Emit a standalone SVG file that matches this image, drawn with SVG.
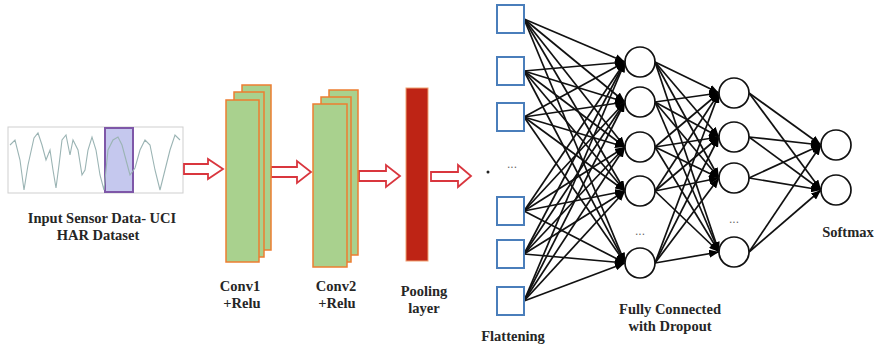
<svg xmlns="http://www.w3.org/2000/svg" width="879" height="350" viewBox="0 0 879 350">
<style>
.lbl{font-family:"Liberation Serif","DejaVu Serif",serif;font-weight:bold;font-size:14.5px;fill:#262626;text-anchor:middle}
.conv{fill:#a9d18e;stroke:#ed7d31;stroke-width:1.5}
.harrow{fill:#fff;stroke:#d9363e;stroke-width:1.8;stroke-linejoin:miter}
.sq{fill:#fff;stroke:#4a7ebb;stroke-width:2}
.nd{fill:#fff;stroke:#111;stroke-width:1.7}
.edge line{stroke:#111;stroke-width:1.7;marker-end:url(#ah)}
.dots{font-family:"Liberation Sans",sans-serif;font-size:12px;fill:#666;text-anchor:middle}
</style>
<defs>
<marker id="ah" markerUnits="userSpaceOnUse" markerWidth="10" markerHeight="8" refX="10" refY="4" orient="auto">
<path d="M0,0 L10,4 L0,8 z" fill="#000"/>
</marker>
</defs>
<rect width="879" height="350" fill="#fff"/>

<g id="input">
<rect x="8" y="127" width="175" height="66" fill="#fff" stroke="#cfcfcf" stroke-width="1"/>
<rect x="105" y="128" width="28" height="64" fill="#c5c8ee" stroke="#7e57a8" stroke-width="2"/>
<polyline fill="none" stroke="#9bb4b4" stroke-width="1.1" points="10,145 15,140 20,160 24,190 28,165 34,138 38,133 42,145 46,160 50,150 53,170 56,188 59,165 62,140 66,135 70,155 73,140 78,150 82,175 85,170 88,150 92,137 96,150 100,175 104,190 108,150 113,140 118,137 122,145 126,160 130,175 135,168 140,150 145,140 150,145 155,170 160,190 165,170 170,150 175,135 180,140"/>
<text class="lbl" x="102" y="223">Input Sensor Data- UCI</text>
<text class="lbl" x="98" y="240">HAR Dataset</text>
</g>

<g id="arrows">
<path class="harrow" d="M184,164 H208 V159 L223,169 L208,179 V174 H184 Z"/>
<path class="harrow" d="M271,167 H297 V161 L311,172 L297,183 V177 H271 Z"/>
<path class="harrow" d="M359,171 H386 V165 L400,176 L386,187 V181 H359 Z"/>
<path class="harrow" d="M431,172 H458 V165 L471,176 L458,187 V181 H431 Z"/>
<circle cx="488" cy="172" r="1.5" fill="#222"/>
</g>

<g id="conv1">
<rect class="conv" x="242" y="85" width="29" height="165"/>
<rect class="conv" x="234" y="92" width="30" height="165"/>
<rect class="conv" x="226" y="100" width="33" height="162"/>
<text class="lbl" x="240" y="291">Conv1</text>
<text class="lbl" x="242" y="308">+Relu</text>
</g>

<g id="conv2">
<rect class="conv" x="329" y="90" width="29" height="165"/>
<rect class="conv" x="321" y="97" width="30" height="165"/>
<rect class="conv" x="313" y="104" width="34" height="163"/>
<text class="lbl" x="336" y="291">Conv2</text>
<text class="lbl" x="337" y="308">+Relu</text>
</g>

<g id="pooling">
<rect x="406" y="88" width="22" height="173" fill="#be2415" stroke="#f0a070" stroke-width="1"/>
<text class="lbl" x="424" y="296">Pooling</text>
<text class="lbl" x="424" y="313">layer</text>
</g>

<g id="connectors" class="edge">
<line x1="524" y1="19" x2="625" y2="62"/><line x1="524" y1="19" x2="625" y2="102"/><line x1="524" y1="19" x2="625" y2="147"/><line x1="524" y1="19" x2="625" y2="191"/><line x1="524" y1="19" x2="625" y2="263"/>
<line x1="524" y1="71" x2="625" y2="62"/><line x1="524" y1="71" x2="625" y2="102"/><line x1="524" y1="71" x2="625" y2="147"/><line x1="524" y1="71" x2="625" y2="191"/><line x1="524" y1="71" x2="625" y2="263"/>
<line x1="524" y1="117" x2="625" y2="62"/><line x1="524" y1="117" x2="625" y2="102"/><line x1="524" y1="117" x2="625" y2="147"/><line x1="524" y1="117" x2="625" y2="191"/><line x1="524" y1="117" x2="625" y2="263"/>
<line x1="524" y1="211" x2="625" y2="62"/><line x1="524" y1="211" x2="625" y2="102"/><line x1="524" y1="211" x2="625" y2="147"/><line x1="524" y1="211" x2="625" y2="191"/><line x1="524" y1="211" x2="625" y2="263"/>
<line x1="524" y1="254" x2="625" y2="62"/><line x1="524" y1="254" x2="625" y2="102"/><line x1="524" y1="254" x2="625" y2="147"/><line x1="524" y1="254" x2="625" y2="191"/><line x1="524" y1="254" x2="625" y2="263"/>
<line x1="524" y1="301" x2="625" y2="62"/><line x1="524" y1="301" x2="625" y2="102"/><line x1="524" y1="301" x2="625" y2="147"/><line x1="524" y1="301" x2="625" y2="191"/><line x1="524" y1="301" x2="625" y2="263"/>
<line x1="655" y1="62" x2="719" y2="93"/><line x1="655" y1="62" x2="719" y2="137"/><line x1="655" y1="62" x2="719" y2="178"/><line x1="655" y1="62" x2="719" y2="252"/>
<line x1="655" y1="102" x2="719" y2="93"/><line x1="655" y1="102" x2="719" y2="137"/><line x1="655" y1="102" x2="719" y2="178"/><line x1="655" y1="102" x2="719" y2="252"/>
<line x1="655" y1="147" x2="719" y2="93"/><line x1="655" y1="147" x2="719" y2="137"/><line x1="655" y1="147" x2="719" y2="178"/><line x1="655" y1="147" x2="719" y2="252"/>
<line x1="655" y1="191" x2="719" y2="93"/><line x1="655" y1="191" x2="719" y2="137"/><line x1="655" y1="191" x2="719" y2="178"/><line x1="655" y1="191" x2="719" y2="252"/>
<line x1="655" y1="263" x2="719" y2="93"/><line x1="655" y1="263" x2="719" y2="137"/><line x1="655" y1="263" x2="719" y2="178"/><line x1="655" y1="263" x2="719" y2="252"/>
<line x1="749" y1="93" x2="821" y2="145"/><line x1="749" y1="93" x2="821" y2="190"/>
<line x1="749" y1="137" x2="821" y2="145"/><line x1="749" y1="137" x2="821" y2="190"/>
<line x1="749" y1="178" x2="821" y2="145"/><line x1="749" y1="178" x2="821" y2="190"/>
<line x1="749" y1="252" x2="821" y2="145"/><line x1="749" y1="252" x2="821" y2="190"/>
</g>

<g id="flattening">
<rect class="sq" x="497" y="5" width="27" height="28"/>
<rect class="sq" x="497" y="57" width="27" height="28"/>
<rect class="sq" x="497" y="103" width="27" height="28"/>
<text class="dots" x="512" y="168">...</text>
<rect class="sq" x="497" y="197" width="27" height="28"/>
<rect class="sq" x="497" y="240" width="27" height="28"/>
<rect class="sq" x="497" y="287" width="27" height="28"/>
<text class="lbl" x="513" y="341">Flattening</text>
</g>

<g id="fc1">
<circle class="nd" cx="640" cy="62" r="15"/>
<circle class="nd" cx="640" cy="102" r="15"/>
<circle class="nd" cx="640" cy="147" r="15"/>
<circle class="nd" cx="640" cy="191" r="15"/>
<text class="dots" x="640" y="235">...</text>
<circle class="nd" cx="640" cy="263" r="15"/>
</g>

<g id="fc2">
<circle class="nd" cx="734" cy="93" r="15"/>
<circle class="nd" cx="734" cy="137" r="15"/>
<circle class="nd" cx="734" cy="178" r="15"/>
<text class="dots" x="734" y="223">...</text>
<circle class="nd" cx="734" cy="252" r="15"/>
<text class="lbl" x="670" y="314">Fully Connected</text>
<text class="lbl" x="670" y="331">with Dropout</text>
</g>

<g id="softmax">
<circle class="nd" cx="836" cy="145" r="15"/>
<circle class="nd" cx="836" cy="190" r="15"/>
<text class="lbl" x="848" y="237">Softmax</text>
</g>
</svg>
